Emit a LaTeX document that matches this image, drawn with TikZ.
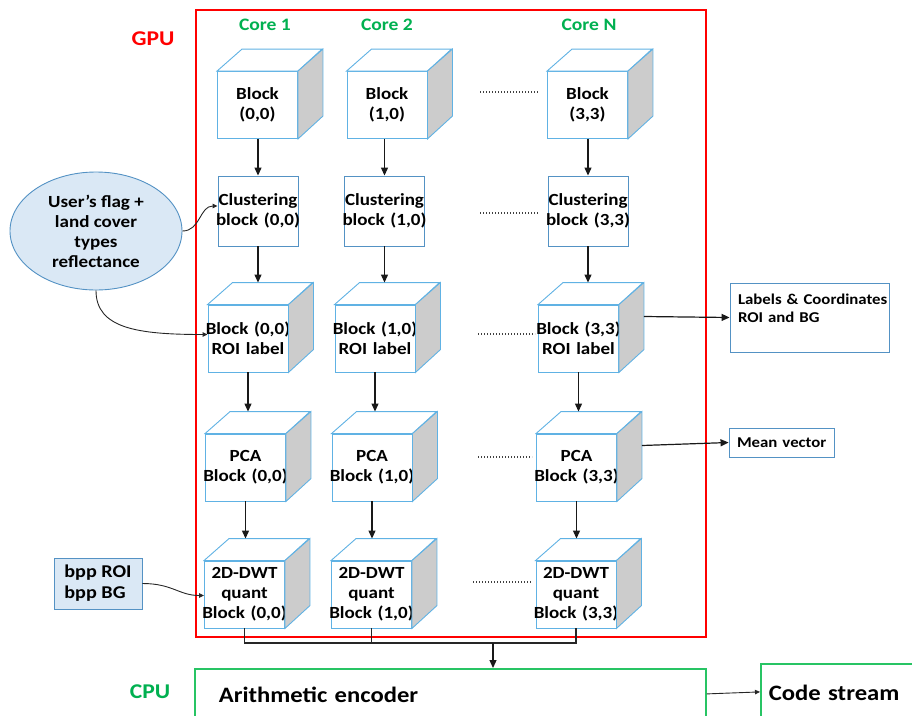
\documentclass[tikz,border=0pt]{standalone}
\usepackage{fontspec}
\setmainfont{Carlito}[FakeStretch=1.12]
\usetikzlibrary{arrows.meta,shapes.geometric}
\definecolor{cubeblue}{RGB}{96,178,228}
\definecolor{boxblue}{RGB}{84,146,196}
\definecolor{cubegray}{RGB}{204,204,204}
\definecolor{lightfill}{RGB}{218,232,245}
\definecolor{gpured}{RGB}{255,0,0}
\definecolor{cpugreen}{RGB}{0,176,80}
\definecolor{linegreen}{RGB}{40,196,100}
\newcommand{\cubefont}{\fontsize{17}{20}\selectfont\bfseries}
\newcommand{\oneline}[1]{\makebox[80pt][c]{#1}}
\newcommand{\drawcube}[4]{%
  \node[cubefront] (#1) at (#2,#3) {#4};
  \draw[cubeedge,fill=white] (#1.north west) -- ++(25,-22) -- ++(80,0) -- (#1.north east) -- cycle;
  \draw[cubeedge,fill=cubegray] (#1.north east) -- ++(25,-22) -- ++(0,67) -- (#1.south east) -- cycle;
  \coordinate (#1-t) at ([yshift=22pt]#1.north);
  \coordinate (#1-r) at ([xshift=25pt,yshift=22pt]#1.east);
}
\tikzset{
  cubeedge/.style={draw=cubeblue, line width=0.9pt, line join=miter},
  cubefront/.style={cubeedge, fill=white, text width=80pt, minimum height=67pt, inner sep=0pt, align=center, font=\cubefont},
  clbox/.style={draw=boxblue, line width=0.9pt, text width=80pt, minimum height=70pt, inner sep=0pt, align=center, font=\cubefont},
  arr/.style={draw=black!90, line width=1.2pt, -{Triangle[length=8pt,width=7pt]}},
  arrs/.style={draw=black!85, line width=0.9pt, -{Triangle[length=5pt,width=4.5pt]}},
  plain/.style={draw=black!85, line width=1.2pt},
  dots/.style={draw=black!75, line width=1.1pt, dash pattern=on 0.9pt off 2.1pt},
  infobox/.style={draw=boxblue, line width=0.9pt, inner xsep=8pt, inner ysep=0pt, align=left, font=\fontsize{15}{18}\selectfont\bfseries},
  greenbox/.style={draw=linegreen, line width=1.8pt, anchor=north west, inner ysep=0pt, align=left, font=\fontsize{22}{26}\selectfont\bfseries},
  corelabel/.style={text=cpugreen, font=\fontsize{17.5}{20}\selectfont\bfseries},
}
\begin{document}
\begin{tikzpicture}[x=1pt,y=-1pt]
\useasboundingbox (0,0) rectangle (912,715);
\clip (0,0) rectangle (912,715);

% GPU frame
\draw[gpured, line width=1.8pt] (196,10) rectangle (706,637);
\node[text=gpured, font=\fontsize{21}{24}\selectfont\bfseries] (gpu) at (153,39) {GPU};
\node[corelabel] (core1) at (265,25) {Core 1};
\node[corelabel] (core2) at (387,25) {Core 2};
\node[corelabel] (coreN) at (589,25) {Core N};

% row 1
\drawcube{b00}{257.5}{105}{\oneline{Block}\\\oneline{(0,0)}}
\drawcube{b10}{387}{105}{\oneline{Block}\\\oneline{(1,0)}}
\drawcube{b33}{587.5}{105}{\oneline{Block}\\\oneline{(3,3)}}
% row 2
\node[clbox] (c00) at (258,211) {\oneline{Clustering}\\\oneline{block (0,0)}\\[6pt]};
\node[clbox] (c10) at (384.5,211) {\oneline{Clustering}\\\oneline{block (1,0)}\\[6pt]};
\node[clbox] (c33) at (588,211) {\oneline{Clustering}\\\oneline{block (3,3)}\\[6pt]};
% row 3
\drawcube{r00}{248}{338.5}{\oneline{Block (0,0)}\\\oneline{ROI label}}
\drawcube{r10}{375}{338.5}{\oneline{Block (1,0)}\\\oneline{ROI label}}
\drawcube{r33}{578.5}{338.5}{\oneline{Block (3,3)}\\\oneline{ROI label}}
% row 4
\drawcube{p00}{245.5}{467.5}{\oneline{PCA}\\\oneline{Block (0,0)}}
\drawcube{p10}{372}{467.5}{\oneline{PCA}\\\oneline{Block (1,0)}}
\drawcube{p33}{576.5}{467.5}{\oneline{PCA}\\\oneline{Block (3,3)}}
% row 5
\drawcube{d00}{244.5}{594.5}{\mbox{}\\[-10pt]\oneline{2D-DWT}\\\oneline{quant}\\\oneline{Block (0,0)}}
\drawcube{d10}{371.5}{594.5}{\mbox{}\\[-10pt]\oneline{2D-DWT}\\\oneline{quant}\\\oneline{Block (1,0)}}
\drawcube{d33}{576}{594.5}{\mbox{}\\[-10pt]\oneline{2D-DWT}\\\oneline{quant}\\\oneline{Block (3,3)}}

% vertical arrows
\foreach \c in {00,10,33}{
  \draw[arr] (c\c.north |- b\c.south) -- (c\c.north);
  \draw[arr] (c\c.south) -- (c\c.south |- r\c-t);
  \draw[arr] (r\c.south) -- (r\c.south |- p\c-t);
  \draw[arr] (p\c.south) -- (p\c.south |- d\c-t);
}

% dotted separators
\draw[dots] (480,92) -- (538,92);
\draw[dots] (480,213) -- (538,213);
\draw[dots] (478,334) -- (535,334);
\draw[dots] (478,457) -- (532,457);
\draw[dots] (473,582) -- (532,582);

% side inputs
\node[ellipse, draw=boxblue, line width=0.9pt, fill=lightfill, minimum width=172pt, minimum height=118pt, inner sep=0pt, align=center, font=\fontsize{17}{20}\selectfont\bfseries] (flag) at (96,231) {User’s flag +\\land cover\\types\\reflectance};
\draw[arrs] (flag.east) .. controls +(18,0) and +(-18,0) .. ([yshift=5pt]c00.west);
\draw[arrs] (flag.south) .. controls +(0,38) and +(-70,0) .. ([yshift=4pt]r00.west);

\node[draw=boxblue, line width=0.9pt, fill=lightfill, minimum width=88pt, minimum height=51pt, inner sep=0pt, align=left, font=\fontsize{18}{21}\selectfont\bfseries] (bpp) at (98,583.5) {bpp ROI\\bpp BG};
\draw[arrs] (bpp.east) .. controls +(30,0) and +(-25,0) .. ([yshift=-1pt]d00.west);

% outputs on the right
\node[infobox, text width=143pt, minimum height=69pt] (lab) at (809.5,317.5) {\mbox{Labels \& Coordinates}\\\mbox{ROI and BG}\\\mbox{}};
\draw[arr] (r33-r) -- (lab.west);
\node[infobox, text width=89pt, minimum height=29pt] (mv) at (781.5,442.5) {\mbox{Mean vector}};
\draw[arr] (p33-r) -- (mv.west);

% CPU part
\node[text=cpugreen, font=\fontsize{21}{24}\selectfont\bfseries] (cpu) at (150,692) {CPU};
\node[greenbox, text width=463pt, inner xsep=24pt, text height=34pt, text depth=16pt] (enc) at (194,668) {Arithmetic encoder};
\node[greenbox, text width=200pt, inner xsep=8pt, text height=37pt, text depth=19pt] (code) at (760,663) {Code stream};
\draw[arrs] (enc.east) -- (code.west);

% bus to encoder
\coordinate (bus) at (493,643);
\draw[plain] (d00.south) -- (d00.south |- bus) -- (d33.south |- bus) -- (d33.south);
\draw[plain] (d10.south) -- (d10.south |- bus);
\draw[arr] (bus) -- (bus |- enc.north);
\end{tikzpicture}
\end{document}
